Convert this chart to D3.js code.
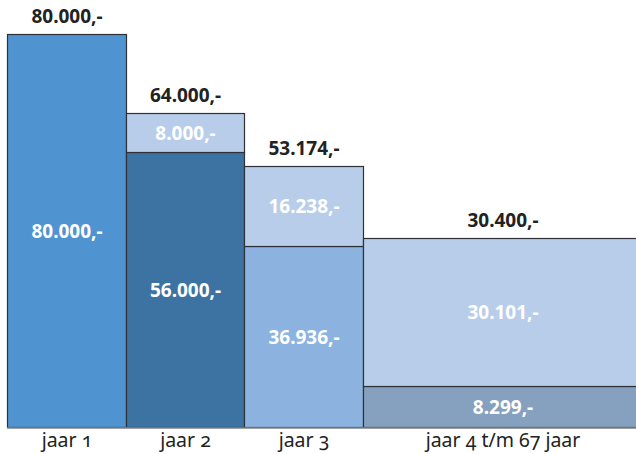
<!DOCTYPE html>
<html>
<head>
<meta charset="utf-8">
<script src="https://cdn.jsdelivr.net/npm/d3@7"></script>
<style>
  html, body { margin: 0; padding: 0; background: #fff; }
  svg { display: block; }
  text { font-family: "Noto Sans", "Open Sans", sans-serif; }
</style>
</head>
<body>
<script>
// ---- data ----
const categories = ["jaar 1", "jaar 2", "jaar 3", "jaar 4 t/m 67 jaar"];
const lowerValues = [80000, 56000, 36936, 8299];
const upperValues = [0, 8000, 16238, 30101];
const totalLabels = [80000, 64000, 53174, 30400];

// ---- layout / style ----
const W = 636, H = 454;
const colSpan = [1, 1, 1, 2.35];
const lowerColors = ["#4f94d0", "#3d73a2", "#8cb3df", "#86a1bf"];
const upperColor = "#b8cde9";

const rows = categories.map((c, i) => ({ cat: c, lower: lowerValues[i], upper: upperValues[i], total: totalLabels[i], i }));
const stacked = d3.stack().keys(["lower", "upper"])(rows);

const loc = d3.formatLocale({ decimal: ",", thousands: ".", grouping: [3], currency: ["", ""] });
const fmt = v => loc.format(",")(v) + ",-";

const svg = d3.select("body").append("svg").attr("width", W).attr("height", H);

const y = d3.scaleLinear().domain([0, 80000]).range([427, 34]);
const cum = d3.cumsum(colSpan);
const x = d3.scaleLinear().domain([0, d3.sum(colSpan)]).range([7, 642]);
const x0 = i => Math.round(x(cum[i] - colSpan[i])) + 0.5;
const x1 = i => Math.round(x(cum[i])) + 0.5;

// segments
stacked.forEach((layer, li) => {
  const g = svg.append("g");
  layer.forEach((d, i) => {
    if (d[1] - d[0] <= 0) return;
    const yt = Math.round(y(d[1])) + 0.5, yb = Math.round(y(d[0])) + 0.5;
    g.append("rect")
      .attr("x", x0(i)).attr("y", yt)
      .attr("width", x1(i) - x0(i)).attr("height", yb - yt)
      .attr("fill", li === 0 ? lowerColors[i] : upperColor)
      .attr("stroke", "#2e3238").attr("stroke-width", 1.2);
    g.append("text")
      .attr("x", (x0(i) + x1(i)) / 2)
      .attr("y", (yt + yb) / 2)
      .attr("dy", "0.36em")
      .attr("text-anchor", "middle")
      .attr("fill", "#fff")
      .attr("font-weight", 700)
      .attr("font-size", 19)
      .text(fmt(d[1] - d[0]));
  });
});

// baseline
svg.append("line")
  .attr("x1", 7).attr("x2", W)
  .attr("y1", Math.round(y(0)) + 1).attr("y2", Math.round(y(0)) + 1)
  .attr("stroke", "#8a8a8a").attr("stroke-width", 1.5);

// totals
const topLayer = stacked[stacked.length - 1];
svg.append("g").selectAll("text").data(rows).join("text")
  .attr("x", d => (x0(d.i) + x1(d.i)) / 2)
  .attr("y", d => y(topLayer[d.i][1]) - 11)
  .attr("text-anchor", "middle")
  .attr("fill", "#222")
  .attr("font-weight", 700)
  .attr("font-size", 19)
  .text(d => fmt(d.total));

// category labels
svg.append("g").selectAll("text").data(rows).join("text")
  .attr("x", d => (x0(d.i) + x1(d.i)) / 2)
  .attr("y", 447)
  .attr("text-anchor", "middle")
  .attr("fill", "#222")
  .attr("font-size", 19.5)
  .style("font-variant-numeric", "oldstyle-nums")
  .style("font-feature-settings", "'onum' 1")
  .text(d => d.cat);
</script>
</body>
</html>
